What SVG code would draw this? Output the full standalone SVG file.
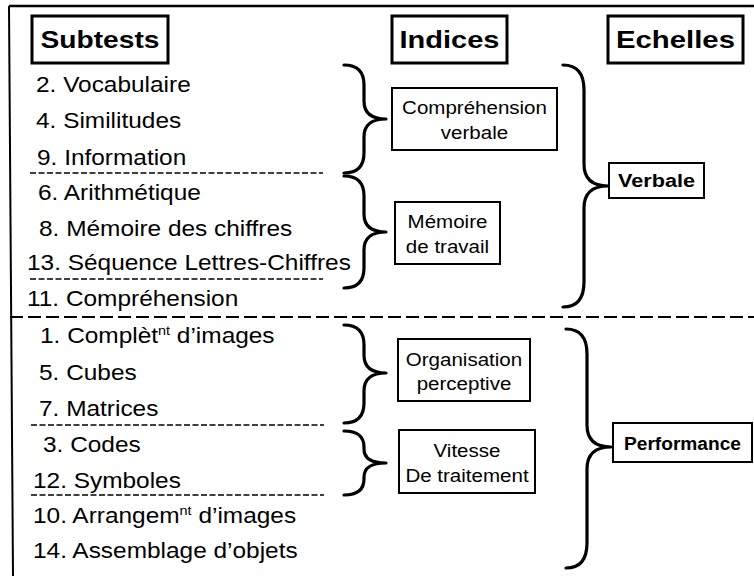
<svg xmlns="http://www.w3.org/2000/svg" width="754" height="576" viewBox="0 0 754 576">
<style>
.item{font-family:"Liberation Sans",Arial,sans-serif;font-size:22px;fill:#000}
.hdr{font-family:"Liberation Sans",Arial,sans-serif;font-size:24px;font-weight:bold;fill:#000;text-anchor:middle}
.bt{font-family:"Liberation Sans",Arial,sans-serif;font-size:18.5px;fill:#000;text-anchor:middle}
.bb{font-family:"Liberation Sans",Arial,sans-serif;font-size:18px;font-weight:bold;fill:#000;text-anchor:middle}
.hbox{fill:#fff;stroke:#000;stroke-width:3}
.box{fill:#fff;stroke:#000;stroke-width:2}
.brace{fill:none;stroke:#000;stroke-width:3.2;stroke-linecap:round;stroke-linejoin:round}
.sdash{stroke:#000;stroke-width:1.6;stroke-dasharray:6 2.5;fill:none}
.ldash{stroke:#000;stroke-width:2.2;stroke-dasharray:13 5;fill:none}
.frame{stroke:#000;fill:none}
</style>
<rect width="754" height="576" fill="#fff"/>
<g id="frame">
<line class="frame" x1="9" y1="6" x2="754" y2="6" stroke-width="2.5"/>
<line class="frame" x1="9" y1="6" x2="13" y2="576" stroke-width="2"/>
<line class="sdash" x1="30" y1="173" x2="323" y2="173"/>
<line class="sdash" x1="30" y1="279" x2="323" y2="279"/>
<line class="ldash" x1="10" y1="317" x2="754" y2="317"/>
<line class="sdash" x1="31" y1="425" x2="324" y2="425"/>
<line class="sdash" x1="31" y1="495" x2="324" y2="495"/>
</g>
<g id="headers">
<g id="h-subtests"><rect class="hbox" x="32" y="16" width="136" height="47"/><text class="hdr" x="100" y="48" textLength="119" lengthAdjust="spacingAndGlyphs">Subtests</text></g>
<g id="h-indices"><rect class="hbox" x="392" y="16" width="115" height="47"/><text class="hdr" x="449.5" y="48" textLength="100" lengthAdjust="spacingAndGlyphs">Indices</text></g>
<g id="h-echelles"><rect class="hbox" x="608" y="16" width="135" height="47"/><text class="hdr" x="675.5" y="48" textLength="119" lengthAdjust="spacingAndGlyphs">Echelles</text></g>
</g>
<g id="subtests">
<text class="item" transform="translate(36,92) scale(1.11,1)">2. Vocabulaire</text>
<text class="item" transform="translate(36,128) scale(1.11,1)">4. Similitudes</text>
<text class="item" transform="translate(37,165) scale(1.11,1)">9. Information</text>
<text class="item" transform="translate(38,200) scale(1.11,1)">6. Arithmétique</text>
<text class="item" transform="translate(39,236) scale(1.11,1)">8. Mémoire des chiffres</text>
<text class="item" transform="translate(27,270) scale(1.11,1)">13. Séquence Lettres-Chiffres</text>
<text class="item" transform="translate(27,306) scale(1.11,1)">11. Compréhension</text>
<text class="item" transform="translate(40,343) scale(1.11,1)">1. Complèt<tspan font-size="13" dy="-8">nt</tspan><tspan dy="8"> d’images</tspan></text>
<text class="item" transform="translate(39,380) scale(1.11,1)">5. Cubes</text>
<text class="item" transform="translate(39,416) scale(1.11,1)">7. Matrices</text>
<text class="item" transform="translate(43,452) scale(1.11,1)">3. Codes</text>
<text class="item" transform="translate(33,488) scale(1.11,1)">12. Symboles</text>
<text class="item" transform="translate(33,523) scale(1.11,1)">10. Arrangem<tspan font-size="13" dy="-8">nt</tspan><tspan dy="8"> d’images</tspan></text>
<text class="item" transform="translate(33,558) scale(1.11,1)">14. Assemblage d’objets</text>
</g>
<g id="connectors">
<path class="brace" d="M344,65 Q364,65 364,85 L364,101 Q364,119 386,119 Q364,119 364,137 L364,153 Q364,173 344,173"/>
<path class="brace" d="M344,176 Q364,176 364,196 L364,214 Q364,232 386,232 Q364,232 364,250 L364,268 Q364,288 344,288"/>
<path class="brace" d="M344,325 Q364,325 364,345 L364,355 Q364,373 386,373 Q364,373 364,391 L364,403 Q364,423 344,423"/>
<path class="brace" d="M344,431 Q364,431 364,447 L364,449 Q364,463 386,463 Q364,463 364,477 L364,479 Q364,495 344,495"/>
<path class="brace" d="M563,65 Q584,65 584,90 L584,164 Q584,186 608,186 Q584,186 584,208 L584,282 Q584,307 563,307"/>
<path class="brace" d="M566,329 Q587,329 587,354 L587,425 Q587,447 611,447 Q587,447 587,469 L587,543 Q587,568 566,568"/>
</g>
<g id="n-comprehension"><rect class="box" x="392" y="88" width="165" height="62"/><text class="bt" transform="translate(474.5,114) scale(1.11,1)">Compréhension</text><text class="bt" transform="translate(474.5,139) scale(1.11,1)">verbale</text></g>
<g id="n-memoire"><rect class="box" x="395" y="202" width="105" height="62"/><text class="bt" transform="translate(447.5,228) scale(1.11,1)">Mémoire</text><text class="bt" transform="translate(447.5,253) scale(1.11,1)">de travail</text></g>
<g id="n-organisation"><rect class="box" x="398" y="339" width="132" height="62"/><text class="bt" transform="translate(464,366) scale(1.11,1)">Organisation</text><text class="bt" transform="translate(464,390) scale(1.11,1)">perceptive</text></g>
<g id="n-vitesse"><rect class="box" x="399" y="430" width="136" height="63"/><text class="bt" transform="translate(467,457) scale(1.11,1)">Vitesse</text><text class="bt" transform="translate(467,482) scale(1.11,1)">De traitement</text></g>
<g id="n-verbale"><rect class="box" x="609" y="163" width="95" height="35"/><text class="bb" x="656.5" y="187" textLength="77" lengthAdjust="spacingAndGlyphs">Verbale</text></g>
<g id="n-performance"><rect class="box" x="613" y="423" width="139" height="39"/><text class="bb" x="682.5" y="450" textLength="117" lengthAdjust="spacingAndGlyphs">Performance</text></g>
</svg>
